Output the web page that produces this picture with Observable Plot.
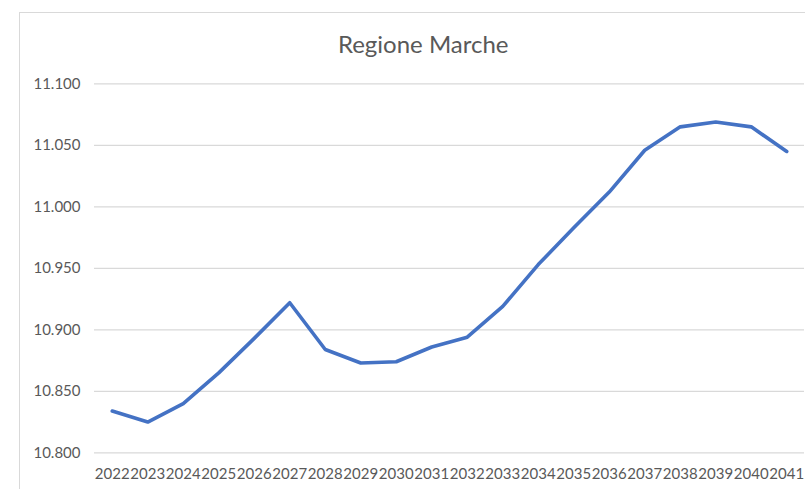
<!DOCTYPE html>
<html><head><meta charset="utf-8">
<script src="https://cdn.jsdelivr.net/npm/d3@7"></script>
<script src="https://cdn.jsdelivr.net/npm/@observablehq/plot@0.6"></script>
<style>
body{margin:0;background:#fff;}
#wrap{position:relative;width:805px;height:489px;overflow:hidden;}
#frame{position:absolute;left:19px;top:12px;width:900px;height:600px;border:1.5px solid #d9d9d9;}
#chart{position:absolute;left:0;top:0;}
</style></head><body>
<div id="wrap"><div id="frame"></div><div id="chart"></div></div>
<script>
const title = "Regione Marche";
const years = [2022,2023,2024,2025,2026,2027,2028,2029,2030,2031,2032,2033,2034,2035,2036,2037,2038,2039,2040,2041];
const values = [10834,10825,10840,10865,10893,10922,10884,10873,10874,10886,10894,10919,10953,10983,11012,11046,11065,11069,11065,11045];
const yTicks = [10800,10850,10900,10950,11000,11050,11100];

const itLocale = d3.formatLocale({decimal:",", thousands:".", grouping:[3], currency:["€",""]});
const fmt = itLocale.format(",");
const data = years.map((y,i)=>({year:String(y), value:values[i]}));

const plot = Plot.plot({
  width:805, height:489,
  marginLeft:94, marginRight:1, marginTop:83.3, marginBottom:36.7,
  style:{background:"transparent", fontFamily:"Lato, sans-serif", fontSize:"15px", color:"#595959"},
  x:{type:"point", domain:years.map(String), padding:0.5, round:false, label:null, tickSize:0, tickPadding:16},
  y:{domain:[10800,11100], ticks:yTicks, tickFormat:fmt, label:null, tickSize:0, tickPadding:14},
  marks:[
    Plot.ruleY(yTicks,{stroke:"#d9d9d9", strokeWidth:1.2}),
    Plot.line(data,{x:"year", y:"value", stroke:"#4472C4", strokeWidth:3.6, strokeLinejoin:"round", strokeLinecap:"round"}),
    Plot.text([title],{frameAnchor:"top", lineAnchor:"middle", dy:-38.3, dx:-26.3, fontSize:24, fill:"#595959"})
  ]
});
document.getElementById("chart").appendChild(plot);
</script>
</body></html>
